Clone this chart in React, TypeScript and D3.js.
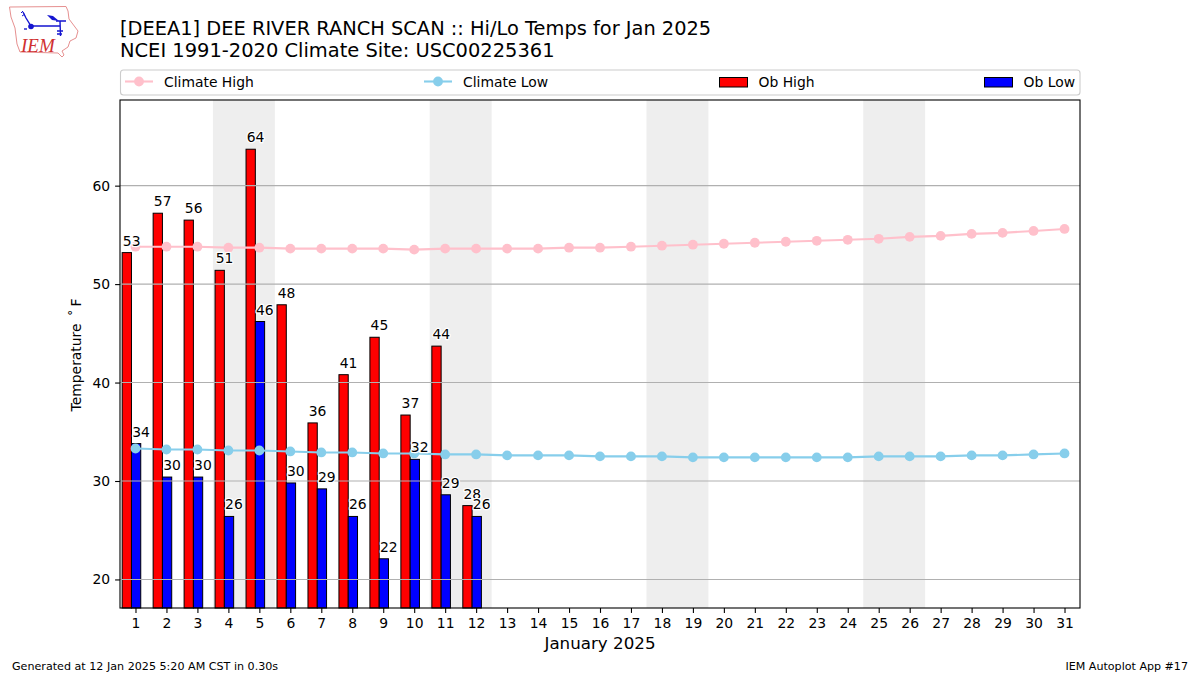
import * as React from 'react';
import * as d3 from 'd3';

const days = d3.range(1, 32);
const obHigh = [53.2, 57.2, 56.5, 51.4, 63.7, 47.9, 35.9, 40.8, 44.6, 36.7, 43.7, 27.5];
const obLow = [33.8, 30.4, 30.4, 26.4, 46.2, 29.8, 29.2, 26.4, 22.1, 32.2, 28.6, 26.4];
const highLabels = [53, 57, 56, 51, 64, 48, 36, 41, 45, 37, 44, 28];
const lowLabels = [34, 30, 30, 26, 46, 30, 29, 26, 22, 32, 29, 26];
const climateHigh = [
  53.8, 53.8, 53.8, 53.7, 53.7, 53.6, 53.6, 53.6, 53.6, 53.5, 53.6, 53.6, 53.6, 53.6, 53.7, 53.7,
  53.8, 53.9, 54.0, 54.1, 54.2, 54.3, 54.4, 54.5, 54.6, 54.8, 54.9, 55.1, 55.2, 55.4, 55.6,
];
const climateLow = [
  33.3, 33.2, 33.2, 33.1, 33.1, 33.0, 32.9, 32.9, 32.8, 32.8, 32.7, 32.7, 32.6, 32.6, 32.6, 32.5,
  32.5, 32.5, 32.4, 32.4, 32.4, 32.4, 32.4, 32.4, 32.5, 32.5, 32.5, 32.6, 32.6, 32.7, 32.8,
];
const weekends = [4, 11, 18, 25];
const yTicks = [20, 30, 40, 50, 60];

const FONT = '"DejaVu Sans", sans-serif';
const margin = { top: 100, right: 120, bottom: 67, left: 120 };
const width = 1200;
const height = 675;

export default function App() {
  const svgRef = React.useRef<SVGSVGElement | null>(null);

  React.useEffect(() => {
    if (!svgRef.current) return;
    const svg = d3.select(svgRef.current);
    svg.selectAll('*').remove();
    svg.attr('font-family', FONT).attr('fill', 'black');

    const x = d3.scaleLinear().domain([0.5, 31.5]).range([margin.left, width - margin.right]);
    const y = d3.scaleLinear().domain([17.1, 68.7]).range([height - margin.bottom - 0, margin.top]);
    const bottom = height - margin.bottom;
    const top = margin.top;
    const left = margin.left;
    const right = width - margin.right;

    // weekend bands
    svg
      .append('g')
      .selectAll('rect')
      .data(weekends)
      .enter()
      .append('rect')
      .attr('x', (d) => x(d - 0.5))
      .attr('width', (d) => x(d + 1.5) - x(d - 0.5))
      .attr('y', top)
      .attr('height', bottom - top)
      .attr('fill', '#eeeeee');

    // bars
    const barW = x(0.8) - x(0.5);
    const bars = (vals: number[], off: number, color: string) =>
      svg
        .append('g')
        .selectAll('rect')
        .data(vals)
        .enter()
        .append('rect')
        .attr('x', (_, i) => x(days[i] + off))
        .attr('width', barW)
        .attr('y', (d) => y(d))
        .attr('height', (d) => bottom - y(d))
        .attr('fill', color)
        .attr('stroke', 'black')
        .attr('stroke-width', 1);
    bars(obHigh, -0.43, 'red');
    bars(obLow, -0.13, 'blue');

    // grid
    svg
      .append('g')
      .selectAll('line')
      .data(yTicks)
      .enter()
      .append('line')
      .attr('x1', left)
      .attr('x2', right)
      .attr('y1', (d) => y(d))
      .attr('y2', (d) => y(d))
      .attr('stroke', '#b0b0b0')
      .attr('stroke-width', 1.1);

    // climate lines
    const line = d3
      .line<number>()
      .x((_, i) => x(days[i]))
      .y((d) => y(d));
    const climate = (vals: number[], color: string) => {
      svg
        .append('path')
        .attr('d', line(vals))
        .attr('fill', 'none')
        .attr('stroke', color)
        .attr('stroke-width', 2.1);
      svg
        .append('g')
        .selectAll('circle')
        .data(vals)
        .enter()
        .append('circle')
        .attr('cx', (_, i) => x(days[i]))
        .attr('cy', (d) => y(d))
        .attr('r', 4.9)
        .attr('fill', color);
    };
    climate(climateHigh, 'pink');
    climate(climateLow, 'skyblue');

    // bar labels
    const labels = (vals: number[], text: number[], off: number) =>
      svg
        .append('g')
        .selectAll('text')
        .data(vals)
        .enter()
        .append('text')
        .attr('x', (_, i) => x(days[i] + off) + 0.7)
        .attr('y', (d) => y(d) - 7)
        .attr('font-size', 13.9)
        .attr('paint-order', 'stroke')
        .attr('stroke', 'white')
        .attr('stroke-width', 2.5)
        .attr('stroke-linejoin', 'round')
        .text((_, i) => text[i]);
    labels(obHigh, highLabels, -0.43);
    labels(obLow, lowLabels, -0.13);

    // frame
    svg
      .append('rect')
      .attr('x', left)
      .attr('y', top)
      .attr('width', right - left)
      .attr('height', bottom - top)
      .attr('fill', 'none')
      .attr('stroke', 'black')
      .attr('stroke-width', 1.1);

    // axes
    const xAxis = d3.axisBottom(x).tickValues(days).tickFormat(d3.format('d')).tickSize(4.9).tickPadding(5.6);
    const yAxis = d3.axisLeft(y).tickValues(yTicks).tickFormat(d3.format('d')).tickSize(4.9).tickPadding(4.9);
    const xg = svg.append('g').attr('transform', `translate(0,${bottom})`).call(xAxis);
    const yg = svg.append('g').attr('transform', `translate(${left},0)`).call(yAxis);
    [xg, yg].forEach((g) => {
      g.select('.domain').remove();
      g.selectAll('.tick line').attr('stroke', 'black').attr('stroke-width', 1.1);
      g.selectAll('.tick text').attr('font-family', FONT).attr('font-size', 13.9).attr('fill', 'black');
    });

    // titles
    const addText = (tx: number, ty: number, s: string, size: number, anchor = 'start') =>
      svg
        .append('text')
        .attr('x', tx)
        .attr('y', ty)
        .attr('font-size', size)
        .attr('text-anchor', anchor)
        .text(s);
    addText(120, 35, '[DEEA1] DEE RIVER RANCH SCAN :: Hi/Lo Temps for Jan 2025', 19.4);
    addText(120, 57, 'NCEI 1991-2020 Climate Site: USC00225361', 19.45);
    addText(600, 649, 'January 2025', 16.7, 'middle');
    addText(12, 670, 'Generated at 12 Jan 2025 5:20 AM CST in 0.30s', 11.13);
    addText(1188, 670, 'IEM Autoplot App #17', 11.1, 'end');
    addText(0, 0, 'Temperature \u2009\u02DA\u2009F', 13.9, 'middle').attr('transform', 'translate(80.5,355) rotate(-90)');

    // legend
    svg
      .append('rect')
      .attr('x', 120.5)
      .attr('y', 70)
      .attr('width', 959.5)
      .attr('height', 25)
      .attr('rx', 3)
      .attr('fill', 'white')
      .attr('stroke', '#cccccc')
      .attr('stroke-width', 1.1);
    const legendLine = (lx: number, color: string, s: string) => {
      svg
        .append('line')
        .attr('x1', lx)
        .attr('x2', lx + 28)
        .attr('y1', 81.5)
        .attr('y2', 81.5)
        .attr('stroke', color)
        .attr('stroke-width', 2.1);
      svg
        .append('circle')
        .attr('cx', lx + 14)
        .attr('cy', 81.5)
        .attr('r', 4.9)
        .attr('fill', color);
      addText(lx + 39, 86.5, s, 13.9);
    };
    const legendBar = (lx: number, color: string, s: string) => {
      svg
        .append('rect')
        .attr('x', lx)
        .attr('y', 77.5)
        .attr('width', 28)
        .attr('height', 9.5)
        .attr('fill', color)
        .attr('stroke', 'black')
        .attr('stroke-width', 1);
      addText(lx + 39, 86.5, s, 13.9);
    };
    legendLine(125, 'pink', 'Climate High');
    legendLine(424, 'skyblue', 'Climate Low');
    legendBar(719.5, 'red', 'Ob High');
    legendBar(984.5, 'blue', 'Ob Low');

    // IEM logo
    const logo = svg.append('g');
    logo
      .append('path')
      .attr('d', 'M9.5,7 L66,6.5 L68,11 L69,19 L78,31 L76,38 L70,41 L68,47 L62,51 L64,55 L62,57 L58,53 L20,52 L17,44 L15,28 L11,17 Z')
      .attr('fill', 'white')
      .attr('stroke', '#e69090')
      .attr('stroke-width', 1);
    logo
      .append('path')
      .attr('d', 'M23,12 L26,18 L31,26 L60,26 M60,21 L60.5,36 M56,21 L66,21 M57,31 L63,31 M57,34 L62,34')
      .attr('fill', 'none')
      .attr('stroke', '#1515d0')
      .attr('stroke-width', 1.4);
    logo.append('path').attr('d', 'M21,13 L23,11 M22,16 L25,14').attr('fill', 'none').attr('stroke', '#1515d0');
    logo.append('circle').attr('cx', 31).attr('cy', 26.5).attr('r', 2.8).attr('fill', '#1515d0');
    logo.append('path').attr('d', 'M24,28 h3 v2 h-3 Z').attr('fill', '#6060d8');
    logo.append('path').attr('d', 'M47,15 L53,16 L59,21 L52,20 Z').attr('fill', '#1515d0');
    logo
      .append('text')
      .attr('x', 21)
      .attr('y', 52)
      .attr('font-family', '"Liberation Serif", serif')
      .attr('font-style', 'italic')
      .attr('font-size', 19)
      .attr('fill', '#d03030')
      .text('IEM');
  }, []);

  return (
    <svg
      ref={svgRef}
      width={width}
      height={height}
      style={{ position: 'absolute', left: 0, top: 0, display: 'block', background: 'white' }}
    />
  );
}
